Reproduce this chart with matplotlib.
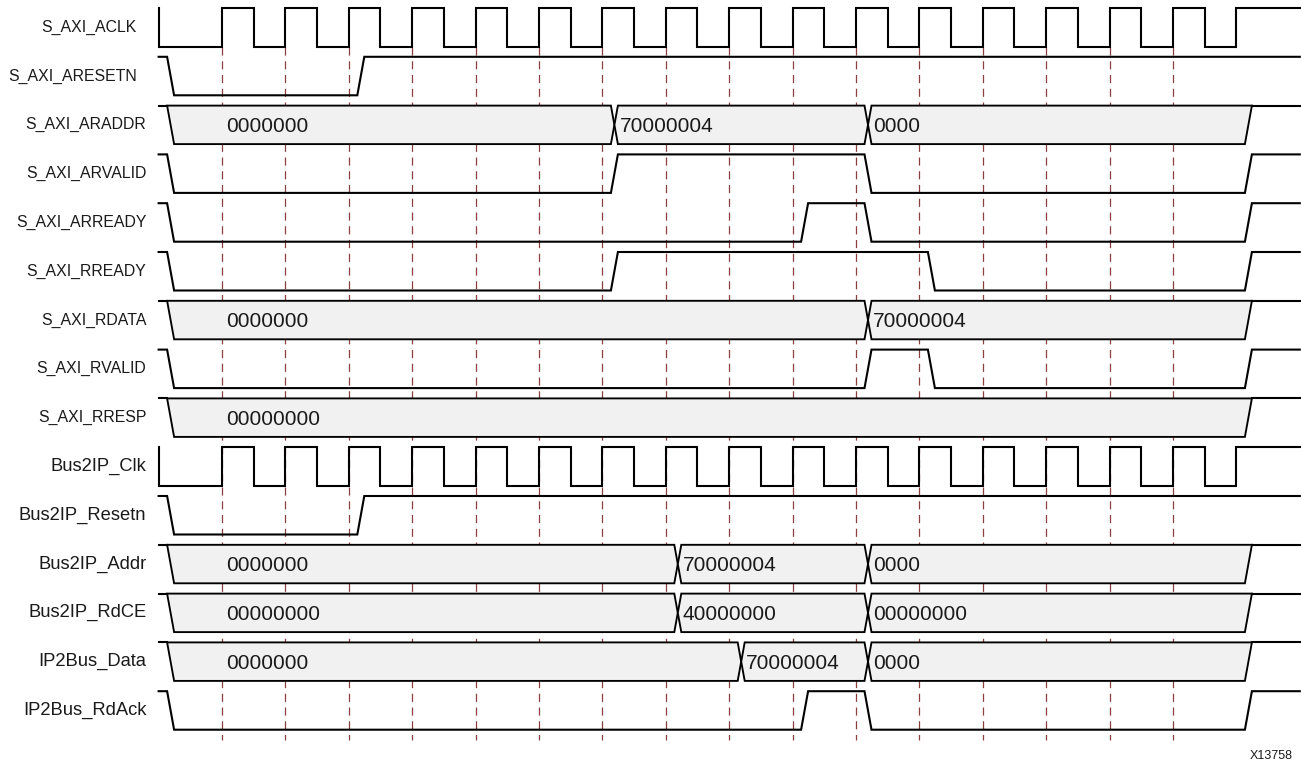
import matplotlib
matplotlib.use("Agg")
import matplotlib.pyplot as plt
from matplotlib.patches import Polygon

plt.rcParams['font.family'] = ['Liberation Sans', 'DejaVu Sans']

# ---------------------------------- DATA ----------------------------------
# times are in clock cycles, 0 = first rising clock edge, -1 = left edge of the waveforms
names = ["S_AXI_ACLK", "S_AXI_ARESETN", "S_AXI_ARADDR", "S_AXI_ARVALID", "S_AXI_ARREADY",
         "S_AXI_RREADY", "S_AXI_RDATA", "S_AXI_RVALID", "S_AXI_RRESP", "Bus2IP_Clk",
         "Bus2IP_Resetn", "Bus2IP_Addr", "Bus2IP_RdCE", "IP2Bus_Data", "IP2Bus_RdAck"]

clock_rises = [0, 1, 2, 3, 4, 5, 6, 7, 8, 9, 10, 11, 12, 13, 14, 15, 16]
clock_falls = [0.5, 1.5, 2.5, 3.5, 4.5, 5.5, 6.5, 7.5, 8.5, 9.5, 10.5, 11.5, 12.5, 13.5, 14.5, 15.5]

# single-bit signals: (cycle of the edge, level after it); every signal starts high
aresetn_edges = [(-1, 0), (2, 1)]
arvalid_edges = [(-1, 0), (6, 1), (10, 0), (16, 1)]
arready_edges = [(-1, 0), (9, 1), (10, 0), (16, 1)]
rready_edges = [(-1, 0), (6, 1), (11, 0), (16, 1)]
rvalid_edges = [(-1, 0), (10, 1), (11, 0), (16, 1)]
resetn_edges = [(-1, 0), (2, 1)]
rdack_edges = [(-1, 0), (9, 1), (10, 0), (16, 1)]

# buses: (cycle where the value starts, value)
araddr_values = [(-1, "0000000"), (6, "70000004"), (10, "0000")]
rdata_values = [(-1, "0000000"), (10, "70000004")]
rresp_values = [(-1, "00000000")]
addr_values = [(-1, "0000000"), (7, "70000004"), (10, "0000")]
rdce_values = [(-1, "00000000"), (7, "40000000"), (10, "00000000")]
data_values = [(-1, "0000000"), (8, "70000004"), (10, "0000")]
bus_end = 16

grid_edges = [0, 1, 2, 3, 4, 5, 6, 7, 8, 9, 10, 11, 12, 13, 14, 15]

rows = {
    "S_AXI_ACLK": ("clk", None),
    "S_AXI_ARESETN": ("bit", aresetn_edges),
    "S_AXI_ARADDR": ("bus", araddr_values),
    "S_AXI_ARVALID": ("bit", arvalid_edges),
    "S_AXI_ARREADY": ("bit", arready_edges),
    "S_AXI_RREADY": ("bit", rready_edges),
    "S_AXI_RDATA": ("bus", rdata_values),
    "S_AXI_RVALID": ("bit", rvalid_edges),
    "S_AXI_RRESP": ("bus", rresp_values),
    "Bus2IP_Clk": ("clk", None),
    "Bus2IP_Resetn": ("bit", resetn_edges),
    "Bus2IP_Addr": ("bus", addr_values),
    "Bus2IP_RdCE": ("bus", rdce_values),
    "IP2Bus_Data": ("bus", data_values),
    "IP2Bus_RdAck": ("bit", rdack_edges),
}

# ---------------------------------- LAYOUT ----------------------------------
W, H = 1301, 765
PX_CYC = 63.4     # pixels per clock cycle
X0 = 222          # pixel of cycle 0
ROW = 48.8        # pixels per row
TOP = 8           # pixel of first row top
T0, T_END = -1, 17
DELAY = 8.5 / PX_CYC
SLEW = 7.0 / PX_CYC
LOW = 38.5 / ROW  # low level offset inside a row

LW = 1.5
FILL = "#f1f1f1"
GRID = "#7e2b2b"

fig = plt.figure(figsize=(W / 100, H / 100), dpi=100)
ax = fig.add_axes([0, 0, 1, 1])
ax.set_xlim(-X0 / PX_CYC, (W - X0) / PX_CYC)
ax.set_ylim((H - TOP) / ROW, -TOP / ROW)
ax.axis("off")

# dashed cycle markers
ax.vlines(grid_edges, LOW, (740 - TOP) / ROW, colors=GRID, linewidth=0.9,
          linestyles=(0, (6.5, 4.5)), alpha=0.9, zorder=1)


def draw_clock(i):
    hi, lo = i, i + LOW
    pts = [(T0, hi), (T0, lo)]
    events = sorted([(t, 1) for t in clock_rises] + [(t, 0) for t in clock_falls])
    for t, v in events:
        if v == 1:
            pts += [(t, lo), (t, hi)]
        else:
            pts += [(t, hi), (t, lo)]
    pts.append((T_END, hi))
    xs, ys = zip(*pts)
    ax.plot(xs, ys, color="black", lw=LW, zorder=3, solid_joinstyle="miter")


def draw_bit(i, edges):
    hi, lo = i, i + LOW
    level = {1: hi, 0: lo}
    cur = 1
    pts = [(T0, hi)]
    for t, v in edges:
        pts += [(t + DELAY, level[cur]), (t + DELAY + SLEW, level[v])]
        cur = v
    pts.append((T_END, level[cur]))
    xs, ys = zip(*pts)
    ax.plot(xs, ys, color="black", lw=LW, zorder=3, solid_joinstyle="miter")


def draw_bus(i, values):
    hi, lo = i, i + LOW
    mid = (hi + lo) / 2
    starts = [t for t, _ in values]
    ends = starts[1:] + [bus_end]
    for k, ((a, text), b) in enumerate(zip(values, ends)):
        if k == 0:
            left = [(a + DELAY + SLEW, lo), (a + DELAY, hi)]
            tx = 4 / PX_CYC
        else:
            left = [(a + DELAY + SLEW, lo), (a + DELAY + SLEW / 2, mid), (a + DELAY + SLEW, hi)]
            tx = a + DELAY + SLEW + 1.5 / PX_CYC
        if b == bus_end:
            right = [(b + DELAY + SLEW, hi), (b + DELAY, lo)]
        else:
            right = [(b + DELAY, hi), (b + DELAY + SLEW / 2, mid), (b + DELAY, lo)]
        poly = Polygon(left + right, closed=True, facecolor=FILL, edgecolor="black",
                       lw=LW * 0.9, zorder=2, joinstyle="miter")
        ax.add_patch(poly)
        ax.text(tx, mid + 7.3 / ROW, text, fontsize=15, ha="left", va="baseline",
                color="#1a1a1a", zorder=4)
    ax.plot([T0, starts[0] + DELAY], [hi, hi], color="black", lw=LW, zorder=3)
    ax.plot([bus_end + DELAY + SLEW, T_END], [hi, hi], color="black", lw=LW, zorder=3)


for i, name in enumerate(names):
    kind, data = rows[name]
    if kind == "clk":
        draw_clock(i)
    elif kind == "bit":
        draw_bit(i, data)
    else:
        draw_bus(i, data)

    # signal names, right aligned left of the waveforms
    right_px = 137 if i < 2 else 146.5
    size = 11.4 if name.startswith("S_AXI") else 13.2
    ax.text((right_px - X0) / PX_CYC, i + LOW / 2, name, fontsize=size,
            ha="right", va="center", color="#1a1a1a")

ax.text((1293 - X0) / PX_CYC, (759 - TOP) / ROW, "X13758", fontsize=9,
        ha="right", va="baseline", color="#1a1a1a")

fig.savefig("out.png", dpi=100)
